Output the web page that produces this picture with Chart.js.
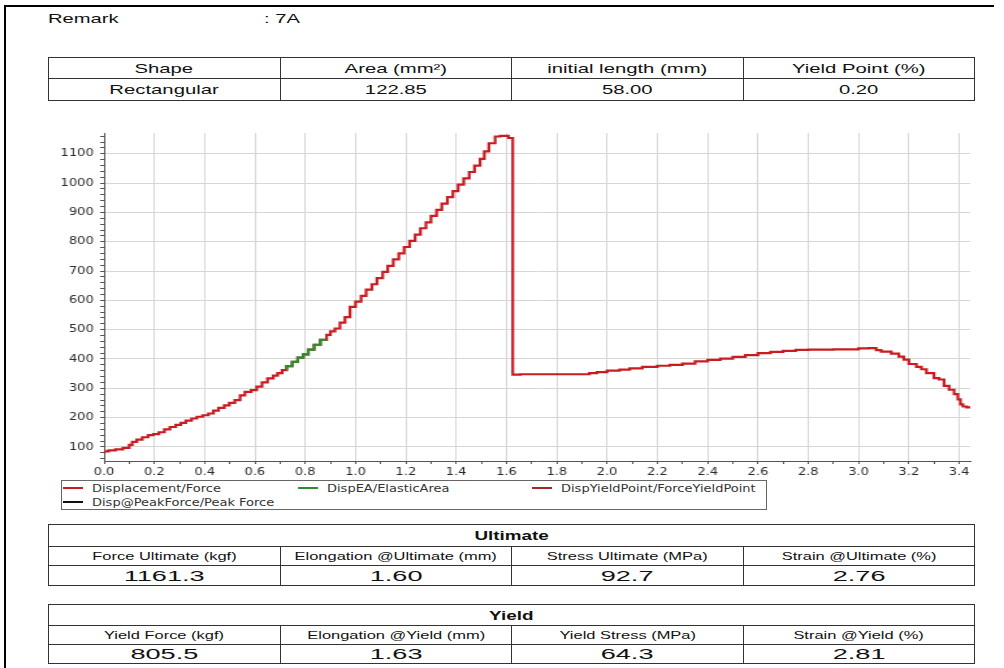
<!DOCTYPE html>
<html>
<head>
<meta charset="utf-8">
<title>Tensile test 7A</title>
<script src="https://cdn.jsdelivr.net/npm/chart.js@4.4.1/dist/chart.umd.min.js"></script>
<style>
  html, body { margin: 0; padding: 0; background: #fff; }
  body { width: 1004px; height: 668px; position: relative; overflow: hidden;
         font-family: Arial, "Liberation Sans", sans-serif; color: #111; }
  .frame-top { position: absolute; left: 4px; top: 5px; width: 990px; height: 2px; background: #000; }
  .frame-left { position: absolute; left: 4px; top: 5px; width: 2px; height: 663px; background: #000; }
  .sx { display: inline-block; white-space: nowrap; transform: scaleX(1.5); }
  .remark { position: absolute; top: 11px; font-size: 13px; line-height: 16px; }
  .remark .sx { transform-origin: left center; transform: scaleX(1.55); }
  table.grid { position: absolute; left: 48px; width: 927px; border-collapse: collapse; table-layout: fixed; }
  table.grid td { border: 1px solid #333; text-align: center; padding: 0; white-space: nowrap; overflow: visible; }
  .top td { font-size: 13px; }
  .top .sx { transform: scaleX(1.56); }
  .res .title { font-weight: bold; font-size: 13px; }
  .res .title .sx { transform: scaleX(1.45); }
  .res .head { font-size: 11.5px; }
  .res .head .sx { transform: scaleX(1.43); }
  .res .val { font-size: 15.5px; }
  .res .val .sx { transform: scaleX(1.75); }
  #chartBox { position: absolute; left: 0; top: 120px; }
  #legend { position: absolute; left: 61px; top: 480px; width: 706px; height: 30px; box-sizing: border-box;
            border: 1px solid #666; display: grid; grid-template-columns: 235px 234px 235px;
            grid-auto-rows: 14px; padding-left: 1px;
            font-family: "DejaVu Sans", Verdana, sans-serif; font-size: 10px; color: #333; }
  #legend .item { display: flex; align-items: center; white-space: nowrap; }
  #legend .swatch { width: 20px; height: 2px; margin-right: 9px; flex: none; }
  #legend .sx { transform-origin: left center; transform: scaleX(1.3); }
</style>
</head>
<body>
<div class="frame-top"></div>
<div class="frame-left"></div>

<div class="remark" style="left:48px"><span class="sx">Remark</span></div>
<div class="remark" style="left:264px"><span class="sx">: 7A</span></div>

<table class="grid top" style="top:57px">
  <tr style="height:21px"><td><span class="sx">Shape</span></td><td><span class="sx">Area (mm²)</span></td><td><span class="sx">initial length (mm)</span></td><td><span class="sx">Yield Point (%)</span></td></tr>
  <tr style="height:22px"><td><span class="sx">Rectangular</span></td><td><span class="sx">122.85</span></td><td><span class="sx">58.00</span></td><td><span class="sx">0.20</span></td></tr>
</table>

<div id="chartBox">
  <canvas id="forceChart" width="772" height="360" style="width:1004px;height:360px"></canvas>
</div>
<div id="legend"></div>

<table class="grid res" style="top:524px">
  <tr style="height:22px"><td colspan="4" class="title"><span class="sx">Ultimate</span></td></tr>
  <tr style="height:19px" class="head"><td><span class="sx">Force Ultimate (kgf)</span></td><td><span class="sx">Elongation @Ultimate (mm)</span></td><td><span class="sx">Stress Ultimate (MPa)</span></td><td><span class="sx">Strain @Ultimate (%)</span></td></tr>
  <tr style="height:20px" class="val"><td><span class="sx">1161.3</span></td><td><span class="sx">1.60</span></td><td><span class="sx">92.7</span></td><td><span class="sx">2.76</span></td></tr>
</table>

<table class="grid res" style="top:604px">
  <tr style="height:21px"><td colspan="4" class="title"><span class="sx">Yield</span></td></tr>
  <tr style="height:19px" class="head"><td><span class="sx">Yield Force (kgf)</span></td><td><span class="sx">Elongation @Yield (mm)</span></td><td><span class="sx">Yield Stress (MPa)</span></td><td><span class="sx">Strain @Yield (%)</span></td></tr>
  <tr style="height:19px" class="val"><td><span class="sx">805.5</span></td><td><span class="sx">1.63</span></td><td><span class="sx">64.3</span></td><td><span class="sx">2.81</span></td></tr>
</table>

<script>
// Displacement (mm) / Force (kgf)
const dispMm = [
  0.000, 0.018, 0.045, 0.075, 0.100, 0.112, 0.130, 0.152, 0.175, 0.196,
  0.218, 0.240, 0.262, 0.285, 0.305, 0.325, 0.348, 0.369, 0.392, 0.415,
  0.435, 0.455, 0.478, 0.498, 0.520, 0.541, 0.560, 0.585, 0.607, 0.628,
  0.650, 0.673, 0.690, 0.708, 0.726, 0.748, 0.770, 0.792, 0.812, 0.835,
  0.860, 0.885, 0.900, 0.918, 0.938, 0.958, 0.978, 1.000, 1.022, 1.042,
  1.065, 1.085, 1.108, 1.128, 1.150, 1.172, 1.193, 1.215, 1.237, 1.258,
  1.280, 1.300, 1.322, 1.343, 1.365, 1.387, 1.408, 1.430, 1.452, 1.473,
  1.495, 1.512, 1.530, 1.555, 1.575, 1.608, 1.625, 1.625, 1.655, 1.930,
  1.960, 2.000, 2.050, 2.090, 2.140, 2.200, 2.250, 2.300, 2.350, 2.400,
  2.450, 2.500, 2.550, 2.600, 2.650, 2.700, 2.750, 2.800, 2.900, 3.000,
  3.040, 3.070, 3.090, 3.130, 3.160, 3.180, 3.200, 3.230, 3.250, 3.270,
  3.300, 3.320, 3.340, 3.360, 3.380, 3.395, 3.405, 3.415, 3.430, 3.444
];
const forceKgf = [
  77, 85, 88, 92, 97, 107, 117, 125, 133, 140,
  144, 150, 160, 168, 175, 182, 190, 197, 203, 208,
  214, 224, 233, 242, 250, 260, 276, 288, 294, 306,
  320, 334, 343, 352, 362, 376, 390, 405, 416, 432,
  448, 465, 482, 494, 504, 524, 543, 578, 596, 615,
  637, 655, 676, 697, 718, 740, 760, 782, 803, 824,
  846, 866, 888, 909, 930, 952, 973, 995, 1016, 1038,
  1060, 1083, 1108, 1136, 1159, 1161, 1154, 500, 347, 348,
  352, 355, 360, 364, 368, 373, 377, 380, 384, 392,
  397, 401, 407, 413, 420, 424, 428, 431, 432, 433,
  436, 437, 430, 425, 418, 408, 398, 383, 373, 365,
  352, 335, 330, 308, 295, 280, 262, 245, 238, 235
];

// elastic area (green part of the trace)
const elasticMm = [0.726, 0.748, 0.770, 0.792, 0.812, 0.835, 0.860, 0.885];
const elasticKgf = [362, 376, 390, 405, 416, 432, 448, 465];

// markers
const yieldPoint = [1.63, 805.5];
const peakPoint = [1.60, 1161.3];

const xTickLabels = ['0.0','0.2','0.4','0.6','0.8','1.0','1.2','1.4','1.6','1.8','2.0','2.2','2.4','2.6','2.8','3.0','3.2','3.4'];
const yTickLabels = [100, 200, 300, 400, 500, 600, 700, 800, 900, 1000, 1100];

const seriesNames = ['Displacement/Force', 'DispEA/ElasticArea', 'DispYieldPoint/ForceYieldPoint', 'Disp@PeakForce/Peak Force'];
const seriesColors = ['#c81c22', '#2e8b2e', '#a8262b', '#111111'];

const toPts = (xs, ys) => xs.map((x, i) => ({ x: x, y: ys[i] }));

const tickFont = { family: 'DejaVu Sans', size: 10 };
const isMajorX = v => xTickLabels.includes(v.toFixed(1));
const isMajorY = v => yTickLabels.includes(Math.round(v));

const chart = new Chart(document.getElementById('forceChart'), {
  type: 'line',
  data: {
    datasets: [
      { label: seriesNames[0], data: toPts(dispMm, forceKgf), borderColor: seriesColors[0],
        borderWidth: 2.2, stepped: 'after', pointRadius: 0, order: 2 },
      { label: seriesNames[1], data: toPts(elasticMm, elasticKgf), borderColor: seriesColors[1],
        borderWidth: 2.2, stepped: 'after', pointRadius: 0, order: 1 },
      { label: seriesNames[2], data: [{ x: yieldPoint[0], y: yieldPoint[1] }], borderColor: seriesColors[2],
        backgroundColor: seriesColors[2], pointRadius: 0, showLine: false, order: 0 },
      { label: seriesNames[3], data: [{ x: peakPoint[0], y: peakPoint[1] }], borderColor: seriesColors[3],
        backgroundColor: seriesColors[3], pointRadius: 0, showLine: false, order: 0 }
    ]
  },
  options: {
    responsive: false,
    devicePixelRatio: 1,
    animation: false,
    events: [],
    layout: { padding: { top: 13, right: 26, left: 0, bottom: 0 } },
    plugins: { legend: { display: false }, tooltip: { enabled: false } },
    scales: {
      x: {
        type: 'linear', min: 0, max: 3.444,
        afterFit: s => { s.height = 19; },
        border: { display: true, color: '#555', width: 1 },
        grid: { color: c => (c.tick && isMajorX(c.tick.value)) ? '#d6d6d6' : 'rgba(0,0,0,0)',
                tickColor: '#555', tickLength: 3 },
        ticks: { stepSize: 0.1, includeBounds: false, autoSkip: false, maxRotation: 0,
                 padding: 2, color: '#2a2a2a', font: tickFont,
                 callback: v => isMajorX(v) ? v.toFixed(1) : '' }
      },
      y: {
        type: 'linear', min: 52, max: 1171,
        afterFit: s => { s.width = 80; },
        border: { display: true, color: '#555', width: 1 },
        grid: { color: c => (c.tick && isMajorY(c.tick.value)) ? '#d6d6d6' : 'rgba(0,0,0,0)',
                tickColor: '#555', tickLength: 3 },
        ticks: { stepSize: 20, includeBounds: false, autoSkip: false,
                 padding: 5, color: '#2a2a2a', font: tickFont,
                 callback: v => isMajorY(v) ? String(Math.round(v)) : '' }
      }
    }
  }
});

// legend box under the plot, built from the chart's datasets
const legendEl = document.getElementById('legend');
chart.data.datasets.forEach(ds => {
  const item = document.createElement('div');
  item.className = 'item';
  item.innerHTML = '<span class="swatch" style="background:' + ds.borderColor + '"></span><span class="sx">' + ds.label + '</span>';
  legendEl.appendChild(item);
});
</script>
</body>
</html>
